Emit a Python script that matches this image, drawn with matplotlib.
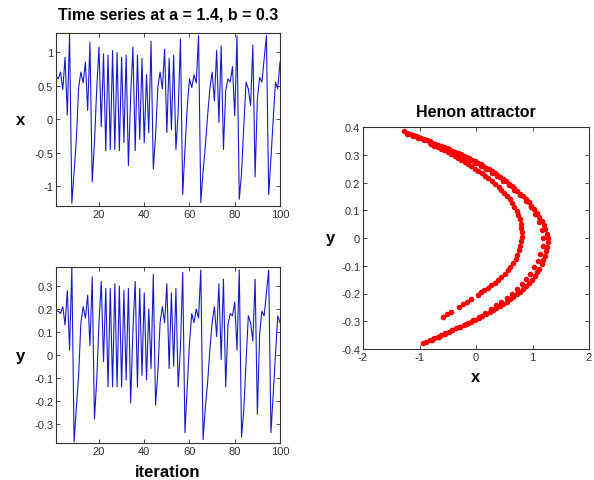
import matplotlib
matplotlib.use("Agg")
import matplotlib.pyplot as plt
from matplotlib.ticker import FuncFormatter

plt.rcParams['font.family'] = ['Liberation Sans', 'DejaVu Sans']
plt.rcParams['axes.unicode_minus'] = False

# time series (iterations 1..100)
iteration = list(range(1, 101))
x_series = [0.63, 0.60, 0.70, 0.44, 0.92, 0.06, 1.27, -1.25, -0.78, -0.30,
            0.47, 0.70, 0.54, 0.85, 0.13, 1.14, -0.93, -0.35, 0.45, 1.07,
            -0.11, 0.97, -0.47, 0.95, -0.45, 1.02, -0.45, 0.99, -0.47, 0.92,
            -0.35, 0.95, -0.69, 0.35, 1.07, -0.47, 0.95, -0.30, 0.90, -0.35,
            0.66, -0.20, 1.16, -0.74, -0.25, 0.47, 0.70, 0.45, 1.04, -0.20,
            0.90, -0.16, 0.95, -0.45, 0.10, 1.19, -1.12, -0.45, 0.18, 0.60,
            0.47, 0.66, 0.54, 1.24, -1.24, -0.78, -0.40, 0.05, 0.45, 0.70,
            0.27, 1.02, -0.05, 1.09, -0.45, 0.42, 0.60, 0.55, 0.78, 0.05,
            1.24, -1.19, -0.80, -0.10, 0.55, 0.45, 0.20, 1.10, -0.86, 0.30,
            0.62, 0.55, 0.90, 1.24, -1.12, -0.58, 0.00, 0.55, 0.45, 0.85]
y_series = [0.19, 0.19, 0.18, 0.21, 0.13, 0.28, 0.02, 0.38, -0.38, -0.23,
            -0.09, 0.14, 0.21, 0.16, 0.26, 0.04, 0.34, -0.28, -0.11, 0.14,
            0.32, -0.03, 0.29, -0.14, 0.29, -0.14, 0.31, -0.14, 0.30, -0.14,
            0.28, -0.11, 0.29, -0.21, 0.11, 0.32, -0.14, 0.29, -0.09, 0.27,
            -0.11, 0.20, -0.06, 0.35, -0.22, -0.08, 0.14, 0.21, 0.14, 0.31,
            -0.06, 0.27, -0.05, 0.29, -0.14, 0.03, 0.36, -0.34, -0.14, 0.05,
            0.18, 0.14, 0.20, 0.16, 0.37, -0.37, -0.23, -0.12, 0.02, 0.14,
            0.21, 0.08, 0.31, -0.02, 0.33, -0.14, 0.13, 0.18, 0.17, 0.23,
            0.02, 0.37, -0.36, -0.24, -0.03, 0.17, 0.14, 0.06, 0.33, -0.26,
            0.09, 0.19, 0.17, 0.27, 0.37, -0.34, -0.17, 0.00, 0.17, 0.14]

# attractor points, read strand by strand
outer_y = [0.384, 0.380, 0.376, 0.372, 0.368, 0.364, 0.360, 0.356, 0.352, 0.348,
           0.344, 0.340, 0.336, 0.332, 0.328, 0.324, 0.320, 0.315, 0.311, 0.306,
           0.302, 0.297, 0.292, 0.287, 0.282, 0.277, 0.271, 0.266, 0.260, 0.254,
           0.248, 0.241, 0.234, 0.227, 0.220, 0.212, 0.204, 0.196, 0.188, 0.179,
           0.170, 0.160, 0.150, 0.140, 0.129, 0.117, 0.104, 0.091, 0.077, 0.063,
           0.048, 0.032, 0.016, 0.000, -0.016, -0.032, -0.048, -0.064, -0.080, -0.095,
           -0.110, -0.124, -0.138, -0.150, -0.162, -0.173, -0.184, -0.194, -0.203, -0.212,
           -0.221, -0.229, -0.237, -0.245, -0.253, -0.260, -0.267, -0.274, -0.281, -0.288,
           -0.294, -0.301, -0.307, -0.314, -0.320, -0.326, -0.332, -0.338, -0.344, -0.350,
           -0.356, -0.362, -0.368, -0.374, -0.379]
outer_x = [-1.27, -1.22, -1.17, -1.12, -1.07, -1.02, -0.97, -0.92, -0.87, -0.82,
           -0.77, -0.72, -0.67, -0.62, -0.57, -0.52, -0.47, -0.42, -0.37, -0.32,
           -0.27, -0.22, -0.17, -0.12, -0.07, -0.02, 0.03, 0.08, 0.13, 0.18,
           0.23, 0.28, 0.33, 0.38, 0.43, 0.48, 0.53, 0.58, 0.63, 0.68,
           0.73, 0.78, 0.83, 0.88, 0.93, 0.98, 1.03, 1.08, 1.12, 1.16,
           1.20, 1.23, 1.25, 1.27, 1.27, 1.26, 1.24, 1.22, 1.19, 1.16,
           1.12, 1.08, 1.04, 0.99, 0.94, 0.89, 0.84, 0.78, 0.72, 0.66,
           0.60, 0.54, 0.48, 0.42, 0.36, 0.30, 0.24, 0.18, 0.11, 0.05,
           -0.02, -0.08, -0.15, -0.22, -0.28, -0.35, -0.42, -0.48, -0.55, -0.62,
           -0.68, -0.75, -0.82, -0.88, -0.93]
band_y = [0.376, 0.368, 0.360, 0.352, 0.344, 0.336, 0.328, 0.320, 0.311, 0.302,
          0.292, 0.282, 0.272, 0.261, 0.249, 0.236, 0.222, 0.207, 0.191, 0.174,
          0.155, 0.134, 0.111, 0.086, 0.058, 0.029, 0.000, -0.029, -0.056, -0.082,
          -0.106, -0.128, -0.148, -0.167, -0.184, -0.200, -0.215, -0.229, -0.243, -0.257,
          -0.270, -0.283, -0.296, -0.309, -0.321, -0.333, -0.345, -0.357, -0.368]
band_x = [-1.22, -1.12, -1.02, -0.92, -0.82, -0.72, -0.62, -0.52, -0.42, -0.32,
          -0.22, -0.12, -0.02, 0.08, 0.18, 0.28, 0.38, 0.48, 0.58, 0.68,
          0.78, 0.88, 0.97, 1.05, 1.12, 1.17, 1.19, 1.18, 1.14, 1.09,
          1.03, 0.96, 0.89, 0.81, 0.72, 0.63, 0.54, 0.45, 0.36, 0.26,
          0.16, 0.05, -0.06, -0.18, -0.30, -0.42, -0.54, -0.66, -0.78]
inner_y = [0.338, 0.333, 0.328, 0.322, 0.316, 0.310, 0.303, 0.296, 0.289, 0.282,
           0.274, 0.266, 0.258, 0.250, 0.242, 0.233, 0.224, 0.215, 0.205, 0.195,
           0.185, 0.174, 0.163, 0.151, 0.139, 0.126, 0.112, 0.098, 0.083, 0.068,
           0.052, 0.036, 0.020, 0.004, -0.012, -0.028, -0.044, -0.060, -0.075, -0.090,
           -0.104, -0.117, -0.129, -0.140, -0.151, -0.161, -0.170, -0.179, -0.188, -0.196,
           -0.204, -0.220, -0.229, -0.238, -0.247, -0.265, -0.274, -0.283]
inner_x = [-0.80, -0.74, -0.68, -0.62, -0.56, -0.50, -0.44, -0.38, -0.32, -0.26,
           -0.20, -0.14, -0.08, -0.02, 0.04, 0.10, 0.16, 0.22, 0.28, 0.34,
           0.40, 0.45, 0.50, 0.55, 0.60, 0.64, 0.68, 0.72, 0.75, 0.77,
           0.79, 0.80, 0.81, 0.81, 0.80, 0.78, 0.76, 0.73, 0.70, 0.66,
           0.61, 0.56, 0.51, 0.45, 0.39, 0.33, 0.27, 0.21, 0.15, 0.09,
           0.03, -0.09, -0.16, -0.23, -0.30, -0.44, -0.51, -0.58]

W, H = 594, 481
fig = plt.figure(figsize=(W / 100, H / 100), dpi=100)

def box(left, top, right, bottom):
    return [left / W, 1 - bottom / H, (right - left) / W, (bottom - top) / H]

ax1 = fig.add_axes(box(56, 34, 280, 207))
ax2 = fig.add_axes(box(56, 268, 280, 444))
ax3 = fig.add_axes(box(363, 128, 589, 350))

fmt = FuncFormatter(lambda v, p: f'{v:g}')
for ax in (ax1, ax2, ax3):
    ax.tick_params(direction='in', top=True, right=True, length=3, width=0.6,
                   labelsize=8, colors='#333333', pad=2)
    for s in ax.spines.values():
        s.set_linewidth(0.8)
        s.set_color('#333333')
    ax.xaxis.set_major_formatter(fmt)
    ax.yaxis.set_major_formatter(fmt)

line_col = '#1a1acc'
ax1.plot(iteration, x_series, color=line_col, lw=0.8)
ax1.set_xlim(1, 100)
ax1.set_ylim(-1.29, 1.28)
ax1.set_xticks([20, 40, 60, 80, 100])
ax1.set_yticks([-1, -0.5, 0, 0.5, 1])
ax1.set_ylabel('x', rotation=0, fontsize=12, fontweight='bold', va='center', ha='center')
ax1.yaxis.set_label_coords(-0.16, 0.5)
ax1.text(0.5, 1.11, 'Time series at a = 1.4, b = 0.3', transform=ax1.transAxes,
         ha='center', va='center', fontsize=11.5, fontweight='bold')

ax2.plot(iteration, y_series, color=line_col, lw=0.8)
ax2.set_xlim(1, 100)
ax2.set_ylim(-0.385, 0.383)
ax2.set_xticks([20, 40, 60, 80, 100])
ax2.set_yticks([-0.3, -0.2, -0.1, 0, 0.1, 0.2, 0.3])
ax2.set_ylabel('y', rotation=0, fontsize=12, fontweight='bold', va='center', ha='center')
ax2.yaxis.set_label_coords(-0.16, 0.5)
ax2.set_xlabel('iteration', fontsize=12, fontweight='bold', va='center')
ax2.xaxis.set_label_coords(0.5, -0.16)

for xs, ys in ((outer_x, outer_y), (band_x, band_y), (inner_x, inner_y)):
    ax3.plot(xs, ys, linestyle='none', marker='o', ms=4, color='red', mec='none')
ax3.set_xlim(-2, 2)
ax3.set_ylim(-0.4, 0.4)
ax3.set_xticks([-2, -1, 0, 1, 2])
ax3.set_yticks([-0.4, -0.3, -0.2, -0.1, 0, 0.1, 0.2, 0.3, 0.4])
ax3.set_xlabel('x', fontsize=12, fontweight='bold', va='center')
ax3.xaxis.set_label_coords(0.5, -0.126)
ax3.set_ylabel('y', rotation=0, fontsize=12, fontweight='bold', va='center', ha='center')
ax3.yaxis.set_label_coords(-0.146, 0.5)
ax3.text(0.5, 1.072, 'Henon attractor', transform=ax3.transAxes,
         ha='center', va='center', fontsize=11.5, fontweight='bold')

fig.savefig('out.png', dpi=100, facecolor='white')
